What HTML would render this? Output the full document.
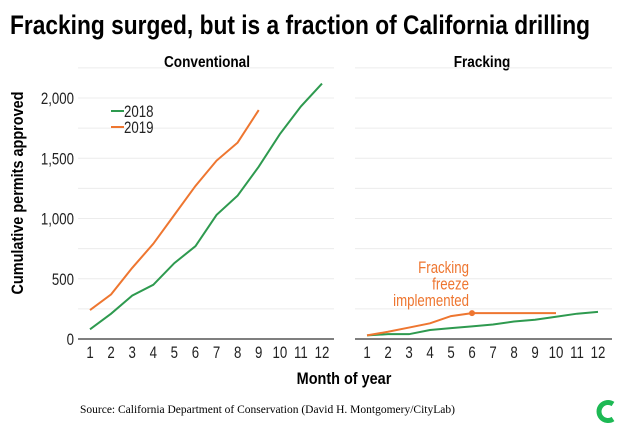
<!DOCTYPE html>
<html><head><meta charset="utf-8"><style>
html,body{margin:0;padding:0;background:#fff;}
svg{display:block;font-family:"Liberation Sans Narrow","Liberation Sans",sans-serif;}
</style></head><body>
<svg id="c" width="620" height="428" viewBox="0 0 620 428">
<text x="10" y="34" font-size="27" font-weight="bold" textLength="580" lengthAdjust="spacingAndGlyphs">Fracking surged, but is a fraction of California drilling</text>
<text transform="translate(207,67) scale(0.85,1)" font-size="16" font-weight="bold" text-anchor="middle">Conventional</text>
<text transform="translate(482,67) scale(0.85,1)" font-size="16" font-weight="bold" text-anchor="middle">Fracking</text>
<text transform="translate(23,193) rotate(-90) scale(0.85,1)" font-size="17" font-weight="bold" text-anchor="middle">Cumulative permits approved</text>
<text transform="translate(344,384) scale(0.85,1)" font-size="17" font-weight="bold" text-anchor="middle">Month of year</text>
<text x="80" y="413" font-size="11.5" font-family="Liberation Serif,serif">Source: California Department of Conservation (David H. Montgomery/CityLab)</text>
<path d="M613,404 A9,9 0 1,0 613,419" fill="none" stroke="#1db954" stroke-width="5"/>
<g id="plot"></g>
</svg>
<script>
const months=[1,2,3,4,5,6,7,8,9,10,11,12];
const yTicks=[0,500,1000,1500,2000];
const yTickLabels=["0","500","1,000","1,500","2,000"];
const conv2018=[80,210,360,450,630,770,1030,1190,1430,1700,1930,2120];
const conv2019=[240,370,590,790,1030,1270,1480,1630,1900];
const frack2018=[30,40,40,75,90,105,120,145,160,185,210,225];
const frack2019=[30,60,95,130,190,215,215,215,215,215];
const freezeMonth=6;
const NS="http://www.w3.org/2000/svg";
const g=document.getElementById('plot');
const y=v=>339-v*(241/2000);
const panels=[{x0:90,x1:322,l:78,r:334},{x0:367,x1:598,l:355,r:612}];
function mk(t,a){const e=document.createElementNS(NS,t);for(const k in a)e.setAttribute(k,a[k]);g.appendChild(e);return e;}
function txt(x,yy,s,size,anchor,fill){const e=mk('text',{transform:'translate('+x+','+yy+') scale(0.78,1)','font-size':size,'text-anchor':anchor,fill:fill});e.textContent=s;return e;}
panels.forEach((p,pi)=>{
  for(let v=250;v<=2250;v+=250){
    const gl=mk('line',{x1:p.l,x2:p.r,y1:y(v),y2:y(v),stroke:'#ececec','stroke-width':1});
    
    
  }
  const ax=mk('line',{x1:p.l,x2:p.r,y1:339,y2:339,stroke:'#333','stroke-width':1.3});
  
  
  months.forEach(m=>{
    const t=txt(p.x0+(m-1)*(p.x1-p.x0)/11,358,String(m),17,'middle','#222');
    
    
  });
});
yTicks.forEach((v,i)=>{
  const t=txt(74,y(v)+6,yTickLabels[i],17,'end','#222');
  
  
});
function line(p,data,col,name){
  const xs=m=>p.x0+(m-1)*(p.x1-p.x0)/11;
  const d=data.map((v,i)=>(i?'L':'M')+xs(i+1)+','+y(v)).join('');
  const e=mk('path',{d:d,fill:'none',stroke:col,'stroke-width':2});
  
  
}
const G='#2e9a4f',O='#ee7630';
line(panels[0],conv2018,G,'conventional-2018-line');
line(panels[0],conv2019,O,'conventional-2019-line');
line(panels[1],frack2018,G,'fracking-2018-line');
line(panels[1],frack2019,O,'fracking-2019-line');
const p1=panels[1];
const dot=mk('circle',{cx:p1.x0+(freezeMonth-1)*(p1.x1-p1.x0)/11,cy:y(frack2019[freezeMonth-1]),r:3,fill:O});


["Fracking","freeze","implemented"].forEach((s,i)=>{
  const t=txt(469,273+i*16.5,s,17,'end',O);
  
  
});
[["2018",G,117],["2019",O,133]].forEach(([s,c,yy])=>{
  const l=mk('line',{x1:111,x2:124,y1:yy-6,y2:yy-6,stroke:c,'stroke-width':2});
  
  
  const t=txt(124,yy,s,17,'start','#222');
  
  
});
</script>
</body></html>
